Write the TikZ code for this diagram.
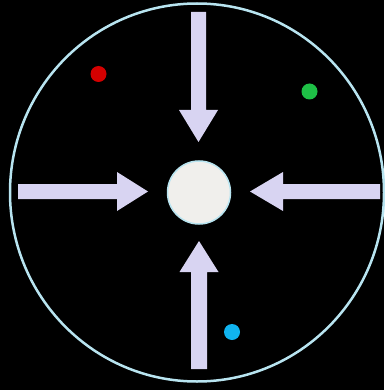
\documentclass[tikz,border=0pt]{standalone}
\begin{document}
\begin{tikzpicture}[x=1pt,y=-1pt,
  arrowfill/.style={fill=arrowcol,draw=none},
  dot/.style={circle,inner sep=0pt,minimum size=16pt,draw=none}]
\definecolor{arrowcol}{HTML}{D8D4F2}
\definecolor{ringcol}{HTML}{B8E4F0}
\definecolor{corecol}{HTML}{F0EFEC}
\definecolor{reddot}{HTML}{D40000}
\definecolor{greendot}{HTML}{1EC046}
\definecolor{bluedot}{HTML}{10B4F0}
\fill[black] (0,0) rectangle (384,390);
\useasboundingbox (0,0) rectangle (384,390);
\draw[ringcol,line width=2.5pt] (197,192.5) ellipse (187 and 189);
% top arrow
\fill[arrowfill] (191,12) -- (206,12) -- (206,110) -- (218,110) -- (198.5,142) -- (179,110) -- (191,110) -- cycle;
% bottom arrow
\fill[arrowfill] (191,369) -- (207,369) -- (207,272) -- (218.5,272) -- (199,241) -- (179.5,272) -- (191,272) -- cycle;
% left arrow
\fill[arrowfill] (18,184) -- (18,199) -- (117,199) -- (117,211) -- (148,191.5) -- (117,172) -- (117,184) -- cycle;
% right arrow
\fill[arrowfill] (380,184) -- (380,199) -- (283,199) -- (283,211) -- (250,191.5) -- (283,172) -- (283,184) -- cycle;
\node[circle,fill=corecol,draw=ringcol,line width=1.5pt,minimum size=63pt,inner sep=0pt] (core) at (199,192.5) {};
\node[dot,fill=reddot] (r) at (98.5,74) {};
\node[dot,fill=greendot] (g) at (309.5,91.5) {};
\node[dot,fill=bluedot] (b) at (232,332) {};
\end{tikzpicture}
\end{document}
